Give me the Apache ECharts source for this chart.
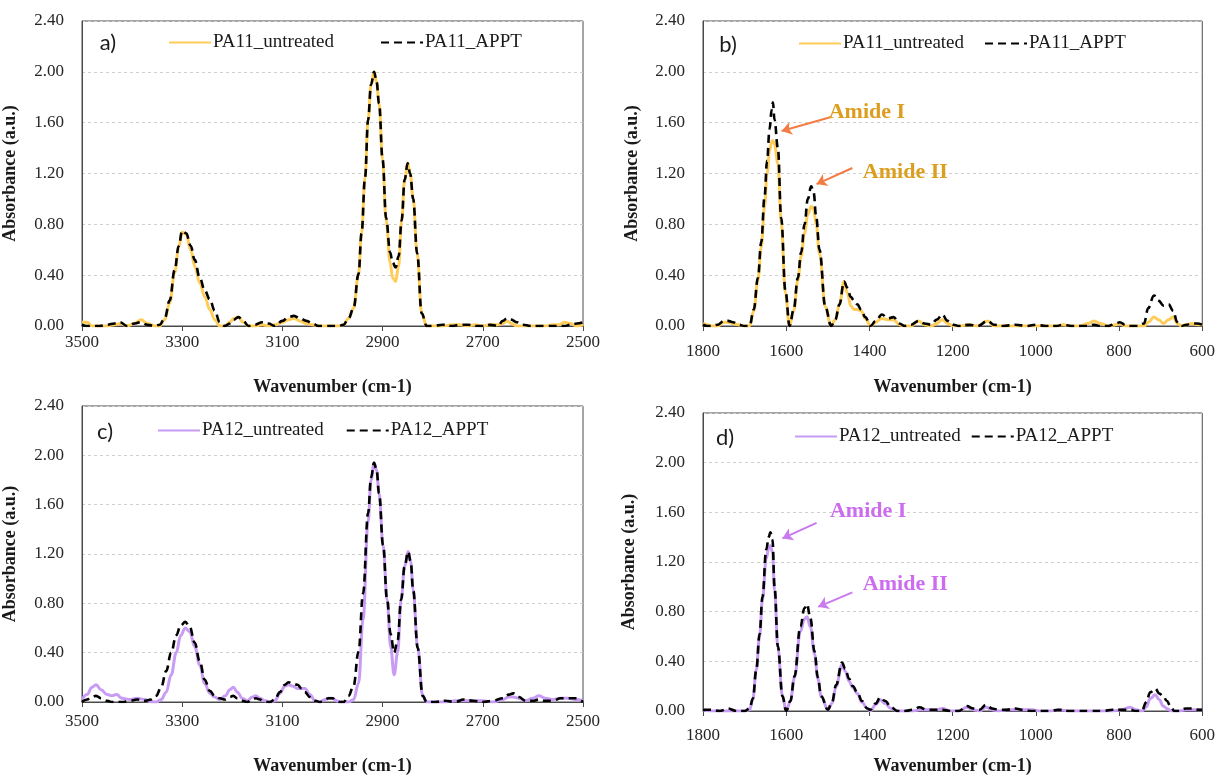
<!DOCTYPE html>
<html>
<head>
<meta charset="utf-8">
<script src="https://cdn.jsdelivr.net/npm/echarts@6/dist/echarts.min.js"></script>
<style>
  html, body { margin: 0; padding: 0; background: #fff; }
  #chart { width: 1218px; height: 776px; }
</style>
</head>
<body>
<div id="chart"></div>
<script>
// FTIR spectra of PA11 / PA12, untreated vs APPT (wavenumber in cm-1, absorbance in a.u.)

// panel a) PA11, 3500-2500 cm-1
const wnA = [3500,3490,3480,3465,3450,3435,3424,3410,3395,3382,3370,3355,3345,3335,3325,3315,3307,3300,3292,3283,
  3275,3265,3255,3245,3235,3225,3215,3205,3197,3188,3178,3168,3155,3140,3128,3115,3100,3088,3077,3065,
  3052,3040,3028,3015,3000,2988,2978,2968,2958,2948,2942,2935,2929,2923,2917,2912,2907,2900,2893,2885,
  2880,2874,2868,2862,2856,2850,2845,2839,2831,2822,2812,2800,2780,2760,2745,2730,2715,2700,2685,2670,
  2660,2652,2643,2632,2620,2605,2590,2575,2560,2548,2537,2525,2512,2500];
const pa11UntreatedA = [0.03,0.03,0.00,0.00,0.00,0.01,0.02,0.00,0.02,0.05,0.02,0.00,0.00,0.05,0.18,0.42,0.62,0.74,0.72,0.60,
  0.47,0.34,0.23,0.13,0.05,0.00,0.00,0.03,0.06,0.07,0.03,0.00,0.00,0.01,0.00,0.01,0.03,0.05,0.06,0.04,
  0.02,0.01,0.00,0.00,0.00,0.00,0.01,0.06,0.14,0.41,0.73,1.17,1.62,1.90,2.00,1.92,1.75,1.31,0.83,0.50,
  0.38,0.35,0.47,0.83,1.15,1.28,1.20,1.00,0.57,0.10,0.00,0.00,0.00,0.01,0.01,0.00,0.01,0.00,0.01,0.01,
  0.02,0.04,0.02,0.00,0.00,0.00,0.00,0.00,0.01,0.01,0.03,0.02,0.00,0.01];
const pa11ApptA = [0.01,0.00,0.00,0.00,0.01,0.02,0.03,0.00,0.02,0.03,0.01,0.00,0.01,0.06,0.20,0.44,0.63,0.75,0.73,0.63,
  0.52,0.38,0.28,0.21,0.12,0.03,0.00,0.02,0.05,0.07,0.04,0.00,0.01,0.03,0.02,0.00,0.04,0.07,0.08,0.06,
  0.04,0.02,0.00,0.00,0.00,0.00,0.01,0.06,0.14,0.41,0.73,1.17,1.62,1.90,2.00,1.92,1.75,1.31,0.85,0.58,
  0.50,0.46,0.55,0.83,1.15,1.28,1.20,1.00,0.57,0.10,0.00,0.00,0.01,0.00,0.01,0.01,0.00,0.00,0.01,0.00,
  0.04,0.06,0.05,0.03,0.01,0.00,0.00,0.00,0.00,0.00,0.00,0.01,0.02,0.03];

// panel b) PA11, 1800-600 cm-1
const wnB = [1800,1790,1780,1765,1750,1740,1728,1715,1700,1688,1678,1668,1660,1652,1646,1640,1635,1632,1628,1620,
  1612,1602,1592,1582,1572,1564,1556,1548,1540,1534,1528,1520,1506,1492,1482,1472,1461,1453,1445,1437,
  1429,1420,1410,1397,1385,1370,1355,1342,1328,1315,1300,1282,1268,1252,1238,1225,1212,1198,1185,1160,
  1140,1116,1100,1080,1050,1020,1000,975,950,935,915,895,875,860,845,825,808,798,785,770,
  755,740,730,716,705,693,681,670,660,650,638,625,612,600];
const pa11UntreatedB = [0.02,0.01,0.00,0.00,0.03,0.03,0.02,0.01,0.00,0.00,0.12,0.36,0.62,0.94,1.20,1.38,1.45,1.46,1.43,1.28,
  0.81,0.26,0.00,0.12,0.36,0.55,0.73,0.88,0.94,0.92,0.80,0.57,0.15,0.00,0.05,0.17,0.35,0.26,0.16,0.13,
  0.13,0.12,0.06,0.00,0.03,0.06,0.05,0.05,0.01,0.00,0.00,0.04,0.01,0.00,0.02,0.05,0.02,0.00,0.00,0.01,
  0.00,0.04,0.00,0.00,0.00,0.00,0.00,0.00,0.00,0.01,0.00,0.00,0.02,0.04,0.02,0.00,0.01,0.02,0.00,0.00,
  0.00,0.00,0.03,0.07,0.05,0.02,0.05,0.07,0.02,0.00,0.01,0.02,0.01,0.01];
const pa11ApptB = [0.01,0.00,0.00,0.01,0.04,0.04,0.03,0.01,0.00,0.00,0.13,0.38,0.66,1.02,1.30,1.55,1.70,1.76,1.62,1.40,
  0.85,0.28,0.00,0.13,0.38,0.58,0.80,1.00,1.10,1.05,0.86,0.60,0.15,0.00,0.05,0.17,0.35,0.30,0.23,0.20,
  0.17,0.13,0.07,0.00,0.04,0.09,0.06,0.07,0.02,0.00,0.01,0.04,0.02,0.01,0.05,0.09,0.04,0.01,0.00,0.01,
  0.00,0.04,0.01,0.00,0.01,0.00,0.01,0.00,0.00,0.01,0.00,0.00,0.00,0.01,0.00,0.00,0.02,0.03,0.01,0.00,
  0.00,0.02,0.14,0.24,0.20,0.16,0.17,0.12,0.03,0.00,0.01,0.02,0.02,0.01];

// panel c) PA12, 3500-2500 cm-1
const wnC = [3500,3490,3480,3472,3462,3450,3440,3431,3420,3405,3390,3375,3362,3352,3342,3332,3322,3312,3303,3294,
  3285,3275,3265,3255,3245,3235,3225,3214,3205,3198,3190,3180,3170,3160,3153,3145,3135,3125,3115,3105,
  3095,3088,3080,3070,3062,3055,3045,3035,3025,3015,3008,3000,2992,2985,2978,2968,2958,2948,2939,2929,
  2923,2917,2912,2907,2899,2891,2884,2877,2870,2863,2856,2849,2844,2839,2830,2820,2812,2795,2775,2755,
  2738,2720,2700,2680,2660,2648,2639,2628,2615,2600,2588,2575,2560,2545,2530,2515,2500];
const pa12UntreatedC = [0.02,0.06,0.12,0.14,0.10,0.06,0.05,0.06,0.03,0.02,0.03,0.02,0.00,0.00,0.02,0.08,0.22,0.40,0.54,0.60,
  0.57,0.45,0.30,0.15,0.07,0.04,0.02,0.05,0.10,0.12,0.08,0.03,0.01,0.04,0.05,0.03,0.01,0.00,0.01,0.07,
  0.13,0.14,0.13,0.11,0.11,0.11,0.06,0.01,0.00,0.02,0.03,0.03,0.01,0.00,0.00,0.00,0.02,0.15,0.67,1.46,
  1.80,1.94,1.88,1.69,1.27,0.83,0.45,0.22,0.40,0.83,1.10,1.22,1.14,0.91,0.44,0.05,0.00,0.00,0.00,0.01,
  0.01,0.01,0.01,0.00,0.02,0.04,0.04,0.03,0.01,0.03,0.05,0.03,0.02,0.03,0.03,0.02,0.01];
const pa12ApptC = [0.00,0.02,0.04,0.05,0.03,0.01,0.00,0.00,0.00,0.01,0.02,0.01,0.02,0.05,0.12,0.25,0.40,0.54,0.62,0.65,
  0.61,0.48,0.33,0.18,0.09,0.05,0.03,0.02,0.04,0.05,0.03,0.01,0.00,0.02,0.03,0.02,0.00,0.00,0.02,0.08,
  0.14,0.16,0.15,0.14,0.11,0.08,0.04,0.01,0.00,0.02,0.03,0.03,0.01,0.00,0.00,0.05,0.13,0.41,0.88,1.53,
  1.82,1.94,1.88,1.69,1.27,0.83,0.55,0.40,0.50,0.83,1.10,1.22,1.14,0.91,0.44,0.05,0.00,0.00,0.01,0.00,
  0.02,0.01,0.00,0.01,0.03,0.06,0.07,0.04,0.01,0.01,0.02,0.01,0.01,0.03,0.03,0.03,0.00];

// panel d) PA12, 1800-600 cm-1
const wnD = [1800,1780,1760,1740,1720,1700,1688,1680,1672,1664,1657,1648,1642,1638,1633,1628,1620,1609,1600,1590,
  1580,1566,1556,1550,1542,1532,1524,1516,1500,1490,1480,1466,1458,1449,1440,1429,1418,1405,1398,1385,
  1374,1362,1348,1333,1315,1295,1280,1262,1240,1225,1205,1185,1166,1150,1135,1120,1105,1090,1070,1050,
  1030,1010,990,965,945,920,900,870,840,815,795,773,760,745,735,725,713,703,694,685,
  675,667,655,640,625,610,600];
const pa12UntreatedD = [0.01,0.00,0.00,0.00,0.00,0.00,0.01,0.10,0.33,0.60,0.90,1.23,1.31,1.33,1.28,0.97,0.51,0.12,0.00,0.08,
  0.27,0.64,0.74,0.76,0.68,0.46,0.26,0.12,0.01,0.06,0.20,0.37,0.32,0.24,0.19,0.14,0.07,0.02,0.00,0.05,
  0.09,0.06,0.02,0.00,0.00,0.00,0.01,0.01,0.01,0.02,0.00,0.00,0.03,0.01,0.00,0.03,0.01,0.00,0.01,0.01,
  0.01,0.01,0.00,0.00,0.01,0.00,0.00,0.00,0.00,0.00,0.01,0.03,0.01,0.00,0.03,0.10,0.13,0.09,0.04,0.02,
  0.00,0.00,0.00,0.01,0.01,0.01,0.01];
const pa12ApptD = [0.01,0.01,0.00,0.02,0.00,0.00,0.02,0.10,0.33,0.62,0.92,1.30,1.40,1.44,1.38,1.00,0.52,0.12,0.00,0.08,
  0.28,0.68,0.83,0.86,0.75,0.48,0.27,0.12,0.01,0.07,0.21,0.39,0.34,0.26,0.20,0.15,0.08,0.02,0.01,0.06,
  0.11,0.08,0.03,0.00,0.00,0.01,0.03,0.01,0.01,0.01,0.00,0.00,0.04,0.02,0.01,0.05,0.02,0.01,0.01,0.02,
  0.01,0.00,0.00,0.00,0.01,0.00,0.00,0.00,0.00,0.01,0.01,0.01,0.00,0.00,0.07,0.15,0.18,0.14,0.12,0.08,
  0.03,0.00,0.00,0.02,0.02,0.01,0.01];

// tick labels / ranges
const yTicks = [0, 0.4, 0.8, 1.2, 1.6, 2.0, 2.4];
const rangeHigh = [2500, 3500];
const rangeLow = [600, 1800];

// Amide band annotations: [label, text anchor (wn, abs), arrow start, arrow end]
const amideB = [
  ['Amide I', [1499, 1.68], [1492, 1.645], [1611, 1.534]],
  ['Amide II', [1417, 1.21], [1441, 1.243], [1527, 1.117]]
];
const amideD = [
  ['Amide I', [1496, 1.61], [1527, 1.515], [1609, 1.39]],
  ['Amide II', [1417, 1.02], [1441, 0.955], [1523, 0.839]]
];

const SERIF = '"Liberation Serif", "DejaVu Serif", serif';
const YELLOW = '#FFCD57';
const LILAC = '#C89BF5';
const pairs = (xs, ys) => xs.map((x, i) => [x, ys[i]]);

const panels = [
  { tag: 'a)', grid: { left: 82, right: 635, top: 21, height: 305 }, range: rangeHigh, labelGap: 8, nameGap: 52, yNameGap: 63,
    legend: { left: 168, top: 33, itemGap: 46 }, names: ['PA11_untreated', 'PA11_APPT'], color: YELLOW,
    wn: wnA, u: pa11UntreatedA, t: pa11ApptA, tagPos: [108, 43] },
  { tag: 'b)', grid: { left: 703, right: 13, top: 21, height: 305 }, range: rangeLow, labelGap: 17, nameGap: 52, yNameGap: 62,
    legend: { left: 798, top: 34, itemGap: 20 }, names: ['PA11_untreated', 'PA11_APPT'], color: YELLOW,
    wn: wnB, u: pa11UntreatedB, t: pa11ApptB, tagPos: [728, 45],
    amide: amideB, amideText: '#DC9E1E', amideArrow: '#F47C44' },
  { tag: 'c)', grid: { left: 82, right: 635, top: 406, height: 307 }, range: rangeHigh, labelGap: 11, nameGap: 55, yNameGap: 63,
    legend: { left: 157, top: 421, itemGap: 22 }, names: ['PA12_untreated', 'PA12_APPT'], color: LILAC,
    wn: wnC, u: pa12UntreatedC, t: pa12ApptC, tagPos: [105, 432] },
  { tag: 'd)', grid: { left: 703, right: 13, top: 413, height: 309 }, range: rangeLow, labelGap: 16, nameGap: 46, yNameGap: 65,
    legend: { left: 794, top: 427, itemGap: 10 }, names: ['PA12_untreated', 'PA12_APPT'], color: LILAC,
    wn: wnD, u: pa12UntreatedD, t: pa12ApptD, tagPos: [725, 438],
    amide: amideD, amideText: '#CC6CEE', amideArrow: '#C97AF0' }
];

const option = {
  animation: false,
  backgroundColor: '#fff',
  grid: [], xAxis: [], yAxis: [], series: [], legend: [], graphic: []
};

panels.forEach((p, i) => {
  option.grid.push(Object.assign({ show: true, borderColor: '#4a4a4a', borderWidth: 1, backgroundColor: '#fff' }, p.grid));
  option.xAxis.push({
    gridIndex: i, type: 'value', inverse: true, min: p.range[0], max: p.range[1], interval: 200,
    showMinLabel: true, showMaxLabel: true,
    axisLine: { show: true, onZero: false, lineStyle: { color: '#4a4a4a', width: 1 } },
    axisTick: { show: true, length: 5, lineStyle: { color: '#4a4a4a' } },
    axisLabel: { fontFamily: SERIF, fontSize: 17, color: '#262626', margin: p.labelGap, formatter: (v) => String(v) },
    splitLine: { show: false },
    name: 'Wavenumber (cm-1)', nameLocation: 'middle', nameGap: p.nameGap,
    nameTextStyle: { fontFamily: SERIF, fontSize: 18, fontWeight: 'bold', color: '#1a1a1a' }
  });
  option.yAxis.push({
    gridIndex: i, type: 'value', min: yTicks[0], max: yTicks[yTicks.length - 1], interval: yTicks[1],
    axisLine: { show: true, lineStyle: { color: '#4a4a4a', width: 1 } },
    axisTick: { show: false },
    axisLabel: { fontFamily: SERIF, fontSize: 17, color: '#262626', margin: 18, formatter: (v) => v.toFixed(2) },
    splitLine: { show: true, lineStyle: { color: '#cfcfcf', type: [3, 3], width: 1 } },
    name: 'Absorbance (a.u.)', nameLocation: 'middle', nameGap: p.yNameGap, nameRotate: 90,
    nameTextStyle: { fontFamily: SERIF, fontSize: 18, fontWeight: 'bold', color: '#1a1a1a' }
  });
  option.legend.push({
    left: p.legend.left, top: p.legend.top, itemGap: p.legend.itemGap, padding: 0,
    itemWidth: 42, itemHeight: 14, data: p.names,
    itemStyle: { opacity: 0 },
    textStyle: { fontFamily: SERIF, fontSize: 19, color: '#1a1a1a', padding: [0, 0, 0, -3] }
  });
  option.series.push({
    name: p.names[0], type: 'line', xAxisIndex: i, yAxisIndex: i, data: pairs(p.wn, p.u),
    smooth: 0.4, smoothMonotone: 'x', symbol: 'none', showSymbol: false,
    lineStyle: { color: p.color, width: 3 }, itemStyle: { color: p.color }
  });
  const appt = {
    name: p.names[1], type: 'line', xAxisIndex: i, yAxisIndex: i, data: pairs(p.wn, p.t),
    smooth: 0.4, smoothMonotone: 'x', symbol: 'none', showSymbol: false,
    lineStyle: { color: '#000', width: 2.6, type: [8, 5] }, itemStyle: { color: '#000' }
  };
  if (p.amide) {
    appt.markLine = {
      silent: true, symbol: ['none', 'arrow'], symbolSize: [10, 10], label: { show: false },
      lineStyle: { color: p.amideArrow, width: 2, type: 'solid' },
      data: p.amide.map((a) => [{ coord: a[2] }, { coord: a[3] }])
    };
    appt.markPoint = {
      silent: true, symbol: 'circle', symbolSize: 1, itemStyle: { color: 'rgba(0,0,0,0)' },
      label: { show: true, position: 'right', distance: 0, formatter: '{b}',
        fontFamily: SERIF, fontSize: 22, fontWeight: 'bold', color: p.amideText },
      data: p.amide.map((a) => ({ name: a[0], coord: a[1] }))
    };
  }
  option.series.push(appt);
  option.graphic.push({
    type: 'text', x: p.tagPos[0], y: p.tagPos[1], z: 100,
    style: { text: p.tag, font: '22px Lato, "Open Sans", sans-serif', fill: '#1a1a1a', align: 'center', verticalAlign: 'middle' }
  });
});

const chart = echarts.init(document.getElementById('chart'), null, { renderer: 'canvas' });
chart.setOption(option);
</script>
</body>
</html>
